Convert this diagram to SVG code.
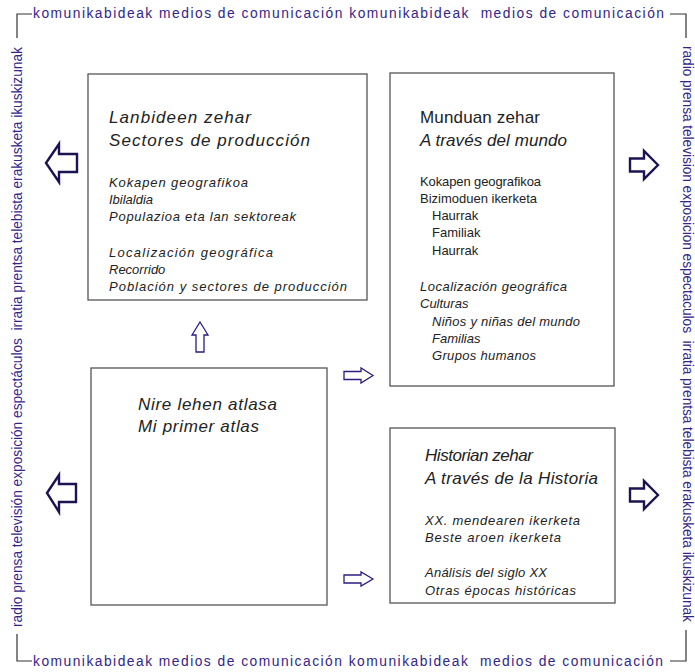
<svg xmlns="http://www.w3.org/2000/svg" width="695" height="672" viewBox="0 0 695 672">
<style>
.bt{font-family:"Liberation Sans",Arial,sans-serif;font-size:13.8px;fill:#33258a}
.corner{fill:none;stroke:#333;stroke-width:1.2}
.box{fill:#fff;stroke:#555;stroke-width:1.3}
.h{font-family:"Liberation Sans",Arial,sans-serif;font-size:17px;fill:#222}
.s{font-family:"Liberation Sans",Arial,sans-serif;font-size:13px;fill:#222}
.i{font-style:italic}
.big{fill:#fff;stroke:#1c1452;stroke-width:2.4;stroke-linejoin:miter}
.small{fill:#fff;stroke:#2a1d82;stroke-width:1.3}
</style>
<rect width="695" height="672" fill="#fff"/>
<g id="border">
<path class="corner" d="M17,38 V14 H32"/>
<path class="corner" d="M670,14 H686 V38"/>
<path class="corner" d="M17,634 V661 H32"/>
<path class="corner" d="M670,661 H686 V630"/>
<text class="bt" xml:space="preserve" x="33" y="18" textLength="631" lengthAdjust="spacing">komunikabideak medios de comunicación komunikabideak  medios de comunicación</text>
<text class="bt" xml:space="preserve" x="33" y="666" textLength="630" lengthAdjust="spacing">komunikabideak medios de comunicación komunikabideak  medios de comunicación</text>
<text class="bt" xml:space="preserve" transform="translate(22,627) rotate(-90)" x="0" y="0" textLength="580" lengthAdjust="spacing">radio prensa televisión exposición espectáculos  irratia prentsa telebista erakusketa ikuskizunak</text>
<text class="bt" xml:space="preserve" transform="translate(683,46) rotate(90)" x="0" y="0" textLength="576" lengthAdjust="spacing">radio prensa television exposicion espectaculos  irratia prentsa telebista erakusketa ikuskizunak</text>
</g>
<g id="box-lanbideen">
<rect class="box" x="88" y="74" width="279" height="226"/>
<text class="h i" x="109" y="123" textLength="142" lengthAdjust="spacing">Lanbideen zehar</text>
<text class="h i" x="109" y="146" textLength="201" lengthAdjust="spacing">Sectores de producción</text>
<text class="s i" x="109" y="187" textLength="139" lengthAdjust="spacing">Kokapen geografikoa</text>
<text class="s i" x="109" y="204">Ibilaldia</text>
<text class="s i" x="109" y="221" textLength="187" lengthAdjust="spacing">Populazioa eta lan sektoreak</text>
<text class="s i" x="109" y="257" textLength="164" lengthAdjust="spacing">Localización geográfica</text>
<text class="s i" x="109" y="274">Recorrido</text>
<text class="s i" x="109" y="291" textLength="238" lengthAdjust="spacing">Población y sectores de producción</text>
</g>
<g id="box-munduan">
<rect class="box" x="390" y="73" width="224" height="313"/>
<text class="h" x="420" y="123" textLength="120" lengthAdjust="spacing">Munduan zehar</text>
<text class="h i" x="420" y="146" textLength="147" lengthAdjust="spacing">A través del mundo</text>
<text class="s" x="420" y="186" textLength="121" lengthAdjust="spacing">Kokapen geografikoa</text>
<text class="s" x="420" y="203" textLength="117" lengthAdjust="spacing">Bizimoduen ikerketa</text>
<text class="s" x="432" y="220">Haurrak</text>
<text class="s" x="432" y="237">Familiak</text>
<text class="s" x="432" y="255">Haurrak</text>
<text class="s i" x="420" y="291" textLength="147" lengthAdjust="spacing">Localización geográfica</text>
<text class="s i" x="420" y="308">Culturas</text>
<text class="s i" x="432" y="326" textLength="148" lengthAdjust="spacing">Niños y niñas del mundo</text>
<text class="s i" x="432" y="343">Familias</text>
<text class="s i" x="432" y="360" textLength="104" lengthAdjust="spacing">Grupos humanos</text>
</g>
<g id="box-historian">
<rect class="box" x="390" y="428" width="225" height="175"/>
<text class="h i" x="425" y="461" textLength="108" lengthAdjust="spacing">Historian zehar</text>
<text class="h i" x="425" y="484" textLength="173" lengthAdjust="spacing">A través de la Historia</text>
<text class="s i" x="425" y="525" textLength="155" lengthAdjust="spacing">XX. mendearen ikerketa</text>
<text class="s i" x="425" y="542" textLength="136" lengthAdjust="spacing">Beste aroen ikerketa</text>
<text class="s i" x="425" y="577" textLength="122" lengthAdjust="spacing">Análisis del siglo XX</text>
<text class="s i" x="425" y="595" textLength="151" lengthAdjust="spacing">Otras épocas históricas</text>
</g>
<g id="box-atlas">
<rect class="box" x="91" y="368" width="236" height="237"/>
<text class="h i" x="138" y="410" textLength="139" lengthAdjust="spacing">Nire lehen atlasa</text>
<text class="h i" x="138" y="432" textLength="121" lengthAdjust="spacing">Mi primer atlas</text>
</g>
<g id="connectors">
<polygon class="big" points="46,163 59,144 59,154 77,154 77,172 59,172 59,182"/>
<polygon class="big" points="47,493 59,475 59,484 76,484 76,502 59,502 59,512"/>
<polygon class="big" points="658,165 644,151 644,158.5 630,158.5 630,171.5 644,171.5 644,179"/>
<polygon class="big" points="658,495 644,481 644,488.5 630,488.5 630,501.5 644,501.5 644,509"/>
<polygon class="small" points="200,322 208,335 204,335 204,352 196,352 196,335 192,335"/>
<polygon class="small" points="373,375.5 361,368 361,371.5 344,371.5 344,379.5 361,379.5 361,383"/>
<polygon class="small" points="373,579 361,572 361,575 344,575 344,583 361,583 361,586"/>
</g>
</svg>
